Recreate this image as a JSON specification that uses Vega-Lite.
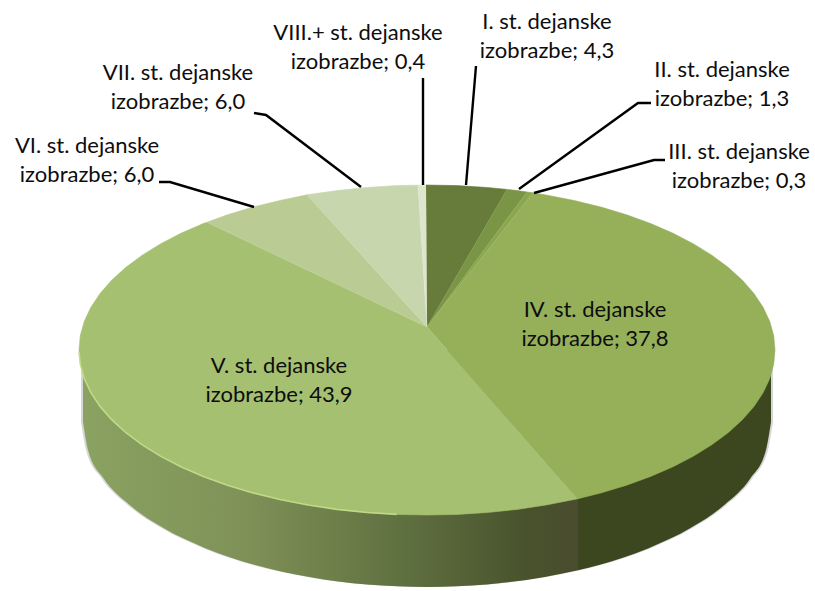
{"$schema":"https://vega.github.io/schema/vega-lite/v6.json","width":815,"height":591,"padding":0,"autosize":{"type":"none"},"background":"white","view":{"stroke":null},
"datasets":{
"slices":[
{"slice":"I","i":0,"x":427,"y":327},{"slice":"I","i":1,"x":426,"y":185},{"slice":"I","i":2,"x":457.3,"y":185.6},{"slice":"I","i":3,"x":487.4,"y":187.5},{"slice":"I","i":4,"x":507,"y":189.4},
{"slice":"II","i":0,"x":427,"y":327},{"slice":"II","i":1,"x":507,"y":189.4},{"slice":"II","i":2,"x":517.1,"y":190.6},{"slice":"II","i":3,"x":527,"y":192},
{"slice":"III","i":0,"x":427,"y":327},{"slice":"III","i":1,"x":527,"y":192},{"slice":"III","i":2,"x":533,"y":192.8},
{"slice":"IV","i":0,"x":427,"y":327},{"slice":"IV","i":1,"x":533,"y":192.8},{"slice":"IV","i":2,"x":546,"y":195},{"slice":"IV","i":3,"x":574.1,"y":200.5},{"slice":"IV","i":4,"x":601,"y":207.1},{"slice":"IV","i":5,"x":626.6,"y":214.8},{"slice":"IV","i":6,"x":650.7,"y":223.6},{"slice":"IV","i":7,"x":673.1,"y":233.3},{"slice":"IV","i":8,"x":693.6,"y":243.9},{"slice":"IV","i":9,"x":712.1,"y":255.4},{"slice":"IV","i":10,"x":728.4,"y":267.5},{"slice":"IV","i":11,"x":742.4,"y":280.3},{"slice":"IV","i":12,"x":754,"y":293.6},{"slice":"IV","i":13,"x":763.1,"y":307.3},{"slice":"IV","i":14,"x":769.7,"y":321.3},{"slice":"IV","i":15,"x":773.7,"y":335.6},{"slice":"IV","i":16,"x":775,"y":350},{"slice":"IV","i":17,"x":773.7,"y":364.4},{"slice":"IV","i":18,"x":769.7,"y":378.7},{"slice":"IV","i":19,"x":763.1,"y":392.7},{"slice":"IV","i":20,"x":754,"y":406.4},{"slice":"IV","i":21,"x":742.4,"y":419.7},{"slice":"IV","i":22,"x":728.4,"y":432.5},{"slice":"IV","i":23,"x":712.1,"y":444.6},{"slice":"IV","i":24,"x":693.6,"y":456.1},{"slice":"IV","i":25,"x":673.1,"y":466.7},{"slice":"IV","i":26,"x":650.7,"y":476.4},{"slice":"IV","i":27,"x":626.6,"y":485.2},{"slice":"IV","i":28,"x":601,"y":492.9},{"slice":"IV","i":29,"x":578,"y":498.7},
{"slice":"V","i":0,"x":427,"y":327},{"slice":"V","i":1,"x":578,"y":498.7},{"slice":"V","i":2,"x":574.1,"y":499.5},{"slice":"V","i":3,"x":546,"y":505},{"slice":"V","i":4,"x":517.1,"y":509.4},{"slice":"V","i":5,"x":487.4,"y":512.5},{"slice":"V","i":6,"x":457.3,"y":514.4},{"slice":"V","i":7,"x":427,"y":515},{"slice":"V","i":8,"x":396.7,"y":514.4},{"slice":"V","i":9,"x":366.6,"y":512.5},{"slice":"V","i":10,"x":336.9,"y":509.4},{"slice":"V","i":11,"x":308,"y":505},{"slice":"V","i":12,"x":279.9,"y":499.5},{"slice":"V","i":13,"x":253,"y":492.9},{"slice":"V","i":14,"x":227.4,"y":485.2},{"slice":"V","i":15,"x":203.3,"y":476.4},{"slice":"V","i":16,"x":180.9,"y":466.7},{"slice":"V","i":17,"x":160.4,"y":456.1},{"slice":"V","i":18,"x":141.9,"y":444.6},{"slice":"V","i":19,"x":125.6,"y":432.5},{"slice":"V","i":20,"x":111.6,"y":419.7},{"slice":"V","i":21,"x":100,"y":406.4},{"slice":"V","i":22,"x":90.9,"y":392.7},{"slice":"V","i":23,"x":84.3,"y":378.7},{"slice":"V","i":24,"x":80.3,"y":364.4},{"slice":"V","i":25,"x":79,"y":350},{"slice":"V","i":26,"x":80.3,"y":335.6},{"slice":"V","i":27,"x":84.3,"y":321.3},{"slice":"V","i":28,"x":90.9,"y":307.3},{"slice":"V","i":29,"x":100,"y":293.6},{"slice":"V","i":30,"x":111.6,"y":280.3},{"slice":"V","i":31,"x":125.6,"y":267.5},{"slice":"V","i":32,"x":141.9,"y":255.4},{"slice":"V","i":33,"x":160.4,"y":243.9},{"slice":"V","i":34,"x":180.9,"y":233.3},{"slice":"V","i":35,"x":203.3,"y":223.6},{"slice":"V","i":36,"x":207,"y":222.3},
{"slice":"VI","i":0,"x":427,"y":327},{"slice":"VI","i":1,"x":207,"y":222.3},{"slice":"VI","i":2,"x":227.4,"y":214.8},{"slice":"VI","i":3,"x":253,"y":207.1},{"slice":"VI","i":4,"x":279.9,"y":200.5},{"slice":"VI","i":5,"x":307,"y":194.8},
{"slice":"VII","i":0,"x":427,"y":327},{"slice":"VII","i":1,"x":307,"y":194.8},{"slice":"VII","i":2,"x":336.9,"y":190.6},{"slice":"VII","i":3,"x":366.6,"y":187.5},{"slice":"VII","i":4,"x":396.7,"y":185.6},{"slice":"VII","i":5,"x":418,"y":185.2},
{"slice":"VIII.+","i":0,"x":427,"y":327},{"slice":"VIII.+","i":1,"x":418,"y":185.2},{"slice":"VIII.+","i":2,"x":426,"y":185}
],
"wall":[
{"part":"V","x":83,"top":350,"bottom":422},{"part":"V","x":88.2,"top":350,"bottom":450.7},{"part":"V","x":103.7,"top":350,"bottom":478.4},{"part":"V","x":129.1,"top":350,"bottom":504.5},{"part":"V","x":163.5,"top":350,"bottom":528.1},{"part":"V","x":205.9,"top":350,"bottom":548.4},{"part":"V","x":255,"top":350,"bottom":564.9},{"part":"V","x":309.3,"top":350,"bottom":577},{"part":"V","x":367.3,"top":350,"bottom":584.5},{"part":"V","x":427,"top":350,"bottom":587},{"part":"V","x":486.7,"top":350,"bottom":584.5},{"part":"V","x":544.7,"top":350,"bottom":577},{"part":"V","x":578,"top":350,"bottom":570.3},
{"part":"IV","x":578,"top":350,"bottom":570.3},{"part":"IV","x":599,"top":350,"bottom":564.9},{"part":"IV","x":648.1,"top":350,"bottom":548.4},{"part":"IV","x":690.5,"top":350,"bottom":528.1},{"part":"IV","x":724.9,"top":350,"bottom":504.5},{"part":"IV","x":750.3,"top":350,"bottom":478.4},{"part":"IV","x":765.8,"top":350,"bottom":450.7},{"part":"IV","x":771,"top":350,"bottom":422}
],
"leaders":[
{"slice":"I","i":0,"x":466,"y":185},{"slice":"I","i":1,"x":476,"y":66},
{"slice":"II","i":0,"x":519,"y":189},{"slice":"II","i":1,"x":638,"y":103},{"slice":"II","i":2,"x":651,"y":103},
{"slice":"III","i":0,"x":534,"y":193},{"slice":"III","i":1,"x":654,"y":160},{"slice":"III","i":2,"x":665,"y":160},
{"slice":"VI","i":0,"x":254,"y":207},{"slice":"VI","i":1,"x":170,"y":182},{"slice":"VI","i":2,"x":159,"y":182},
{"slice":"VII","i":0,"x":361,"y":187},{"slice":"VII","i":1,"x":266,"y":115},{"slice":"VII","i":2,"x":254,"y":113},
{"slice":"VIII.+","i":0,"x":423,"y":185},{"slice":"VIII.+","i":1,"x":423,"y":78}
],
"labels":[
{"slice":"I.","value":"4,3","x":547,"y":22},
{"slice":"II.","value":"1,3","x":722,"y":70},
{"slice":"III.","value":"0,3","x":739,"y":152},
{"slice":"IV.","value":"37,8","x":595,"y":310},
{"slice":"V.","value":"43,9","x":279,"y":366},
{"slice":"VI.","value":"6,0","x":87,"y":146},
{"slice":"VII.","value":"6,0","x":178,"y":73},
{"slice":"VIII.+","value":"0,4","x":358,"y":33}
],
"rim":[
{"i":0,"x":79,"y":352},{"i":1,"x":80.3,"y":364.4},{"i":2,"x":84.3,"y":378.7},{"i":3,"x":90.9,"y":392.7},{"i":4,"x":100,"y":406.4},{"i":5,"x":111.6,"y":419.7},{"i":6,"x":125.6,"y":432.5},{"i":7,"x":141.9,"y":444.6},{"i":8,"x":160.4,"y":456.1},{"i":9,"x":180.9,"y":466.7},{"i":10,"x":203.3,"y":476.4},{"i":11,"x":227.4,"y":485.2},{"i":12,"x":253,"y":492.9},{"i":13,"x":279.9,"y":499.5},{"i":14,"x":308,"y":505},{"i":15,"x":336.9,"y":509.4},{"i":16,"x":366.6,"y":512.5},{"i":17,"x":396.7,"y":514.4}
]
},
"encoding":{
"x":{"field":"x","type":"quantitative","scale":{"domain":[0,815]},"axis":null},
"y":{"field":"y","type":"quantitative","scale":{"domain":[0,591],"reverse":true},"axis":null}
},
"layer":[
{"data":{"name":"wall"},"mark":{"type":"area","interpolate":"monotone","color":"#777777","opacity":0.3,"xOffset":-2,"yOffset":3},"encoding":{"x":{"field":"x","type":"quantitative"},"y":{"field":"top","type":"quantitative"},"y2":{"field":"bottom"},"detail":{"field":"part"}}},
{"data":{"name":"wall"},"mark":{"type":"area","interpolate":"monotone","color":"#777777","opacity":0.3,"xOffset":2,"yOffset":3},"encoding":{"x":{"field":"x","type":"quantitative"},"y":{"field":"top","type":"quantitative"},"y2":{"field":"bottom"},"detail":{"field":"part"}}},
{"data":{"name":"wall"},"transform":[{"filter":"datum.part==='V'"}],"mark":{"type":"area","interpolate":"monotone","color":{"gradient":"linear","x1":0,"x2":1,"y1":0,"y2":0,"stops":[{"offset":0,"color":"#8aa262"},{"offset":0.33,"color":"#7f9157"},{"offset":0.65,"color":"#5f7040"},{"offset":0.9,"color":"#48522c"},{"offset":1,"color":"#4a4c2f"}]}},"encoding":{"y":{"field":"top","type":"quantitative"},"y2":{"field":"bottom"}}},
{"data":{"name":"wall"},"transform":[{"filter":"datum.part==='IV'"}],"mark":{"type":"area","interpolate":"monotone","color":"#3c4720"},"encoding":{"y":{"field":"top","type":"quantitative"},"y2":{"field":"bottom"}}},
{"data":{"name":"slices"},"mark":{"type":"line","strokeWidth":0.6},"encoding":{"order":{"field":"i","type":"quantitative"},"detail":{"field":"slice"},
"fill":{"field":"slice","type":"nominal","legend":null,"scale":{"domain":["I","II","III","IV","V","VI","VII","VIII.+"],"range":["#677c3b","#7a9546","#8aa750","#95b059","#a5c070","#bacc93","#c8d6ae","#dde5cd"]}},
"stroke":{"field":"slice","type":"nominal","legend":null,"scale":{"domain":["I","II","III","IV","V","VI","VII","VIII.+"],"range":["#677c3b","#7a9546","#8aa750","#95b059","#a5c070","#bacc93","#c8d6ae","#dde5cd"]}}}},
{"data":{"name":"rim"},"mark":{"type":"line","color":"#c4e08c","strokeWidth":1.6,"opacity":0.85},"encoding":{"order":{"field":"i","type":"quantitative"}}},
{"data":{"name":"leaders"},"mark":{"type":"line","color":"#000000","strokeWidth":2.4},"encoding":{"order":{"field":"i","type":"quantitative"},"detail":{"field":"slice"}}},
{"data":{"name":"labels"},"transform":[{"calculate":"datum.slice + ' st. dejanske\\nizobrazbe; ' + datum.value","as":"label"}],"mark":{"type":"text","font":"Lato","fontSize":22,"lineBreak":"\n","lineHeight":29,"align":"center","baseline":"middle","color":"#0d0d0d"},"encoding":{"text":{"field":"label"}}}
]}
